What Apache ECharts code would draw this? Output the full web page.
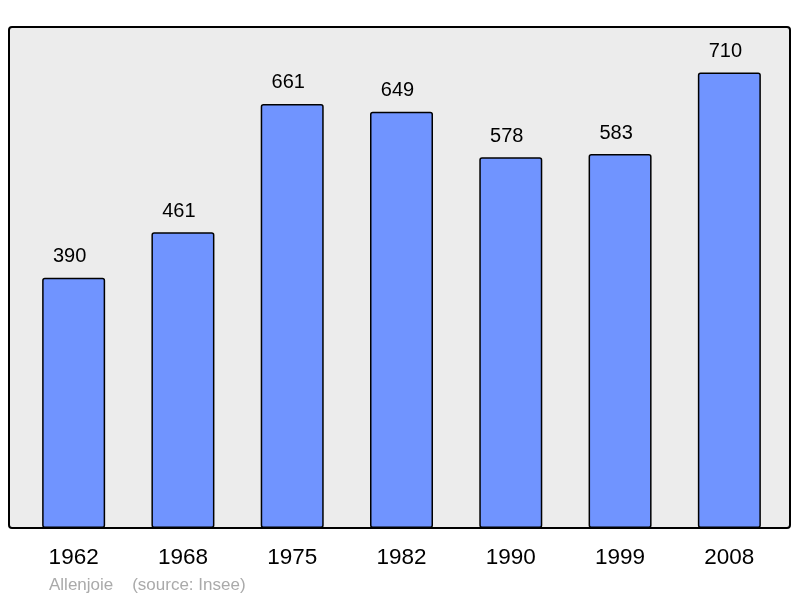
<!DOCTYPE html>
<html><head><meta charset="utf-8">
<script src="https://cdn.jsdelivr.net/npm/echarts@6/dist/echarts.min.js"></script>
<style>html,body{margin:0;padding:0;background:#fff}#c{width:800px;height:598px}</style>
</head><body><div id="c"></div>
<script>
const years = ['1962','1968','1975','1982','1990','1999','2008'];
const population = [390, 461, 661, 649, 578, 583, 710];
const yMax = 781;
const footer = 'Allenjoie    (source: Insee)';

const chart = echarts.init(document.getElementById('c'), null, {renderer:'canvas'});
chart.setOption({
  animation:false,
  backgroundColor:'#ffffff',
  textStyle:{fontFamily:'Liberation Sans, Arial, sans-serif'},
  grid:{left:19, right:16, top:27, bottom:70},
  xAxis:{type:'category', data:years, axisLine:{show:false}, axisTick:{show:false},
    axisLabel:{color:'#000', fontSize:22.5, margin:18, fontFamily:'Liberation Sans, Arial, sans-serif'}},
  yAxis:{type:'value', min:0, max:yMax, show:false, splitLine:{show:false}},
  graphic:[
    {type:'rect', z:-10, shape:{x:9, y:27, width:781, height:501, r:3}, style:{fill:'#ececec', stroke:null}},
    {type:'rect', z:100, silent:true, shape:{x:9, y:27, width:781, height:501, r:3}, style:{fill:null, stroke:'#000', lineWidth:2}},
    {type:'text', left:49, top:577, style:{text:footer, fill:'#aaaaaa', fontSize:17, fontFamily:'Liberation Sans, Arial, sans-serif'}}
  ],
  series:[{
    type:'bar', data:population, barWidth:63,
    itemStyle:{color:'#7094ff', borderColor:'#000', borderWidth:1.5, borderRadius:2},
    label:{show:true, position:'top', distance:11, offset:[-4,0], color:'#000', fontSize:20, fontFamily:'Liberation Sans, Arial, sans-serif'}
  }]
});
</script></body></html>
